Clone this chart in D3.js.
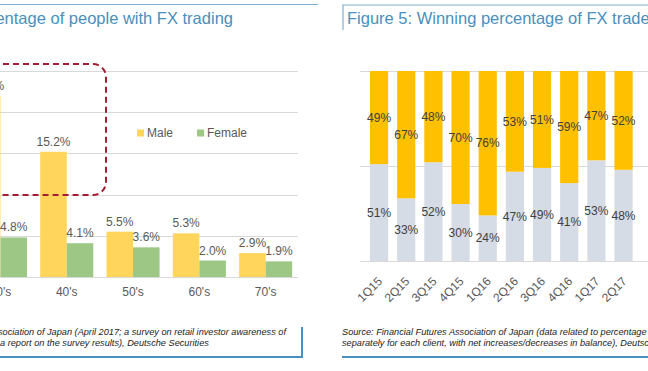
<!DOCTYPE html>
<html>
<head>
<meta charset="utf-8">
<script src="https://cdn.jsdelivr.net/npm/d3@7"></script>
<style>
  body { margin: 0; background: #fff; }
  svg { display: block; font-family: "Liberation Sans", Arial, sans-serif; }
</style>
</head>
<body>
<svg width="648" height="371"></svg>
<script>
// left chart: share of people trading FX, by age and sex
const ages = ["30's", "40's", "50's", "60's", "70's"];
const male = [22.0, 15.2, 5.5, 5.3, 2.9];
const female = [4.8, 4.1, 3.6, 2.0, 1.9];
const sexes = ["Male", "Female"];

// right chart: winning / losing share of FX traders by quarter
const quarters = ["1Q15", "2Q15", "3Q15", "4Q15", "1Q16", "2Q16", "3Q16", "4Q16", "1Q17", "2Q17"];
const lower = [51, 33, 52, 30, 24, 47, 49, 41, 53, 48];
const upper = [49, 67, 48, 70, 76, 53, 51, 59, 47, 52];

const blue = '#4a8fbd';
const grid = '#d9d9d9';
const labelColor = '#595959';

const svg = d3.select('svg');

// ---------- left panel ----------
const left = svg.append('g');

left.append('line')
    .attr('x1', 0).attr('x2', 318).attr('y1', 4.5).attr('y2', 4.5)
    .attr('stroke', '#7fb0d0').attr('stroke-width', 1);

left.append('text')
    .attr('x', 233).attr('y', 24)
    .attr('text-anchor', 'end')
    .attr('fill', blue)
    .style('font-size', '16.5px')
    .text('Percentage of people with FX trading');

const yL = d3.scaleLinear().domain([0, 25]).range([277, 71]);
const x0 = d3.scaleBand().domain(ages).range([-32.7, 298.8]).padding(0);
const x1 = d3.scaleBand().domain(sexes).range([0, x0.bandwidth()]).paddingInner(0).paddingOuter(0.25);
const sexColor = d3.scaleOrdinal().domain(sexes).range(['#ffd55c', '#9dc784']);

left.append('g')
    .selectAll('line')
    .data(yL.ticks(5))
    .join('line')
    .attr('x1', 0).attr('x2', 298)
    .attr('y1', d => Math.round(yL(d)) + 0.5)
    .attr('y2', d => Math.round(yL(d)) + 0.5)
    .attr('stroke', grid);

const rows = ages.map((a, i) => ({ age: a, values: [
    { sex: 'Male', v: male[i] },
    { sex: 'Female', v: female[i] }
] }));

const groups = left.selectAll('g.grp')
    .data(rows)
    .join('g')
    .attr('class', 'grp')
    .attr('transform', d => `translate(${x0(d.age)},0)`);

groups.selectAll('rect')
    .data(d => d.values)
    .join('rect')
    .attr('x', d => x1(d.sex))
    .attr('y', d => yL(d.v))
    .attr('width', x1.bandwidth())
    .attr('height', d => yL(0) - yL(d.v))
    .attr('fill', d => sexColor(d.sex));

groups.selectAll('text')
    .data(d => d.values)
    .join('text')
    .attr('x', d => x1(d.sex) + x1.bandwidth() / 2)
    .attr('y', d => yL(d.v) - 6)
    .attr('text-anchor', 'middle')
    .attr('fill', labelColor)
    .style('font-size', '12px')
    .text(d => d.v.toFixed(1) + '%');

// x axis labels
left.append('g')
    .selectAll('text')
    .data(ages)
    .join('text')
    .attr('x', d => x0(d) + x0.bandwidth() / 2)
    .attr('y', 296)
    .attr('text-anchor', 'middle')
    .attr('fill', labelColor)
    .style('font-size', '12px')
    .text(d => d);

// legend
const legend = left.append('g').attr('transform', 'translate(137,133)');
sexes.forEach((s, i) => {
    const g = legend.append('g').attr('transform', `translate(${i * 60},0)`);
    g.append('rect').attr('x', 0).attr('y', -3.5).attr('width', 7).attr('height', 7).attr('fill', sexColor(s));
    g.append('text').attr('x', 10).attr('y', 4)
        .attr('fill', labelColor).style('font-size', '12px').text(s);
});

// dashed highlight box
left.append('rect')
    .attr('x', -20).attr('y', 64)
    .attr('width', 126).attr('height', 131)
    .attr('rx', 13)
    .attr('fill', 'none')
    .attr('stroke', '#a51d33')
    .attr('stroke-width', 2)
    .attr('stroke-dasharray', '6,4');

// source box
left.append('path')
    .attr('d', 'M0,357 H302 V327')
    .attr('fill', 'none')
    .attr('stroke', blue)
    .attr('stroke-width', 2);

left.append('text')
    .attr('x', 286).attr('y', 335)
    .attr('text-anchor', 'end')
    .attr('fill', '#222')
    .style('font-size', '9.2px').style('font-style', 'italic')
    .text('Source: Financial Futures Association of Japan (April 2017; a survey on retail investor awareness of');
left.append('text')
    .attr('x', 0).attr('y', 346)
    .attr('fill', '#222')
    .style('font-size', '9.2px').style('font-style', 'italic')
    .text('a report on the survey results), Deutsche Securities');

// ---------- right panel ----------
const right = svg.append('g');

right.append('path')
    .attr('d', 'M343,30 V5 H648')
    .attr('fill', 'none')
    .attr('stroke', '#7fb0d0')
    .attr('stroke-width', 1.2);

right.append('text')
    .attr('x', 347).attr('y', 24)
    .attr('fill', blue)
    .style('font-size', '16.5px')
    .text('Figure 5: Winning percentage of FX traders');

const yR = d3.scaleLinear().domain([0, 100]).range([261, 71]);
const xR = d3.scaleBand().domain(quarters).range([361, 641.6]).padding(0.33);

right.append('g')
    .selectAll('line')
    .data([0, 50, 100])
    .join('line')
    .attr('x1', 360).attr('x2', 648)
    .attr('y1', d => Math.round(yR(d)) + 0.5)
    .attr('y2', d => Math.round(yR(d)) + 0.5)
    .attr('stroke', grid);

const segs = [];
quarters.forEach((q, i) => {
    segs.push({ q, y0: 0, y1: lower[i], v: lower[i], fill: '#d6dce5' });
    segs.push({ q, y0: lower[i], y1: lower[i] + upper[i], v: upper[i], fill: '#ffc000' });
});

right.append('g')
    .selectAll('rect')
    .data(segs)
    .join('rect')
    .attr('x', d => xR(d.q))
    .attr('y', d => yR(d.y1))
    .attr('width', xR.bandwidth())
    .attr('height', d => yR(d.y0) - yR(d.y1))
    .attr('fill', d => d.fill);

right.append('g')
    .selectAll('text')
    .data(segs)
    .join('text')
    .attr('x', d => xR(d.q) + xR.bandwidth() / 2)
    .attr('y', d => yR((d.y0 + d.y1) / 2))
    .attr('dy', '0.35em')
    .attr('text-anchor', 'middle')
    .attr('fill', '#404040')
    .style('font-size', '12px')
    .text(d => d.v + '%');

right.append('g')
    .selectAll('text')
    .data(quarters)
    .join('text')
    .attr('transform', d => `translate(${xR(d) + xR.bandwidth() / 2 + 1},${279}) rotate(-45)`)
    .attr('text-anchor', 'end')
    .attr('dy', '0.35em')
    .attr('fill', labelColor)
    .style('font-size', '12px')
    .text(d => d);

right.append('line')
    .attr('x1', 342).attr('x2', 648).attr('y1', 357).attr('y2', 357)
    .attr('stroke', blue).attr('stroke-width', 2);

right.append('text')
    .attr('x', 342).attr('y', 335)
    .attr('fill', '#222')
    .style('font-size', '9.2px').style('font-style', 'italic')
    .text('Source: Financial Futures Association of Japan (data related to percentage of');
right.append('text')
    .attr('x', 342).attr('y', 346)
    .attr('fill', '#222')
    .style('font-size', '9.2px').style('font-style', 'italic')
    .text('separately for each client, with net increases/decreases in balance), Deutsche Securities');
</script>
</body>
</html>
